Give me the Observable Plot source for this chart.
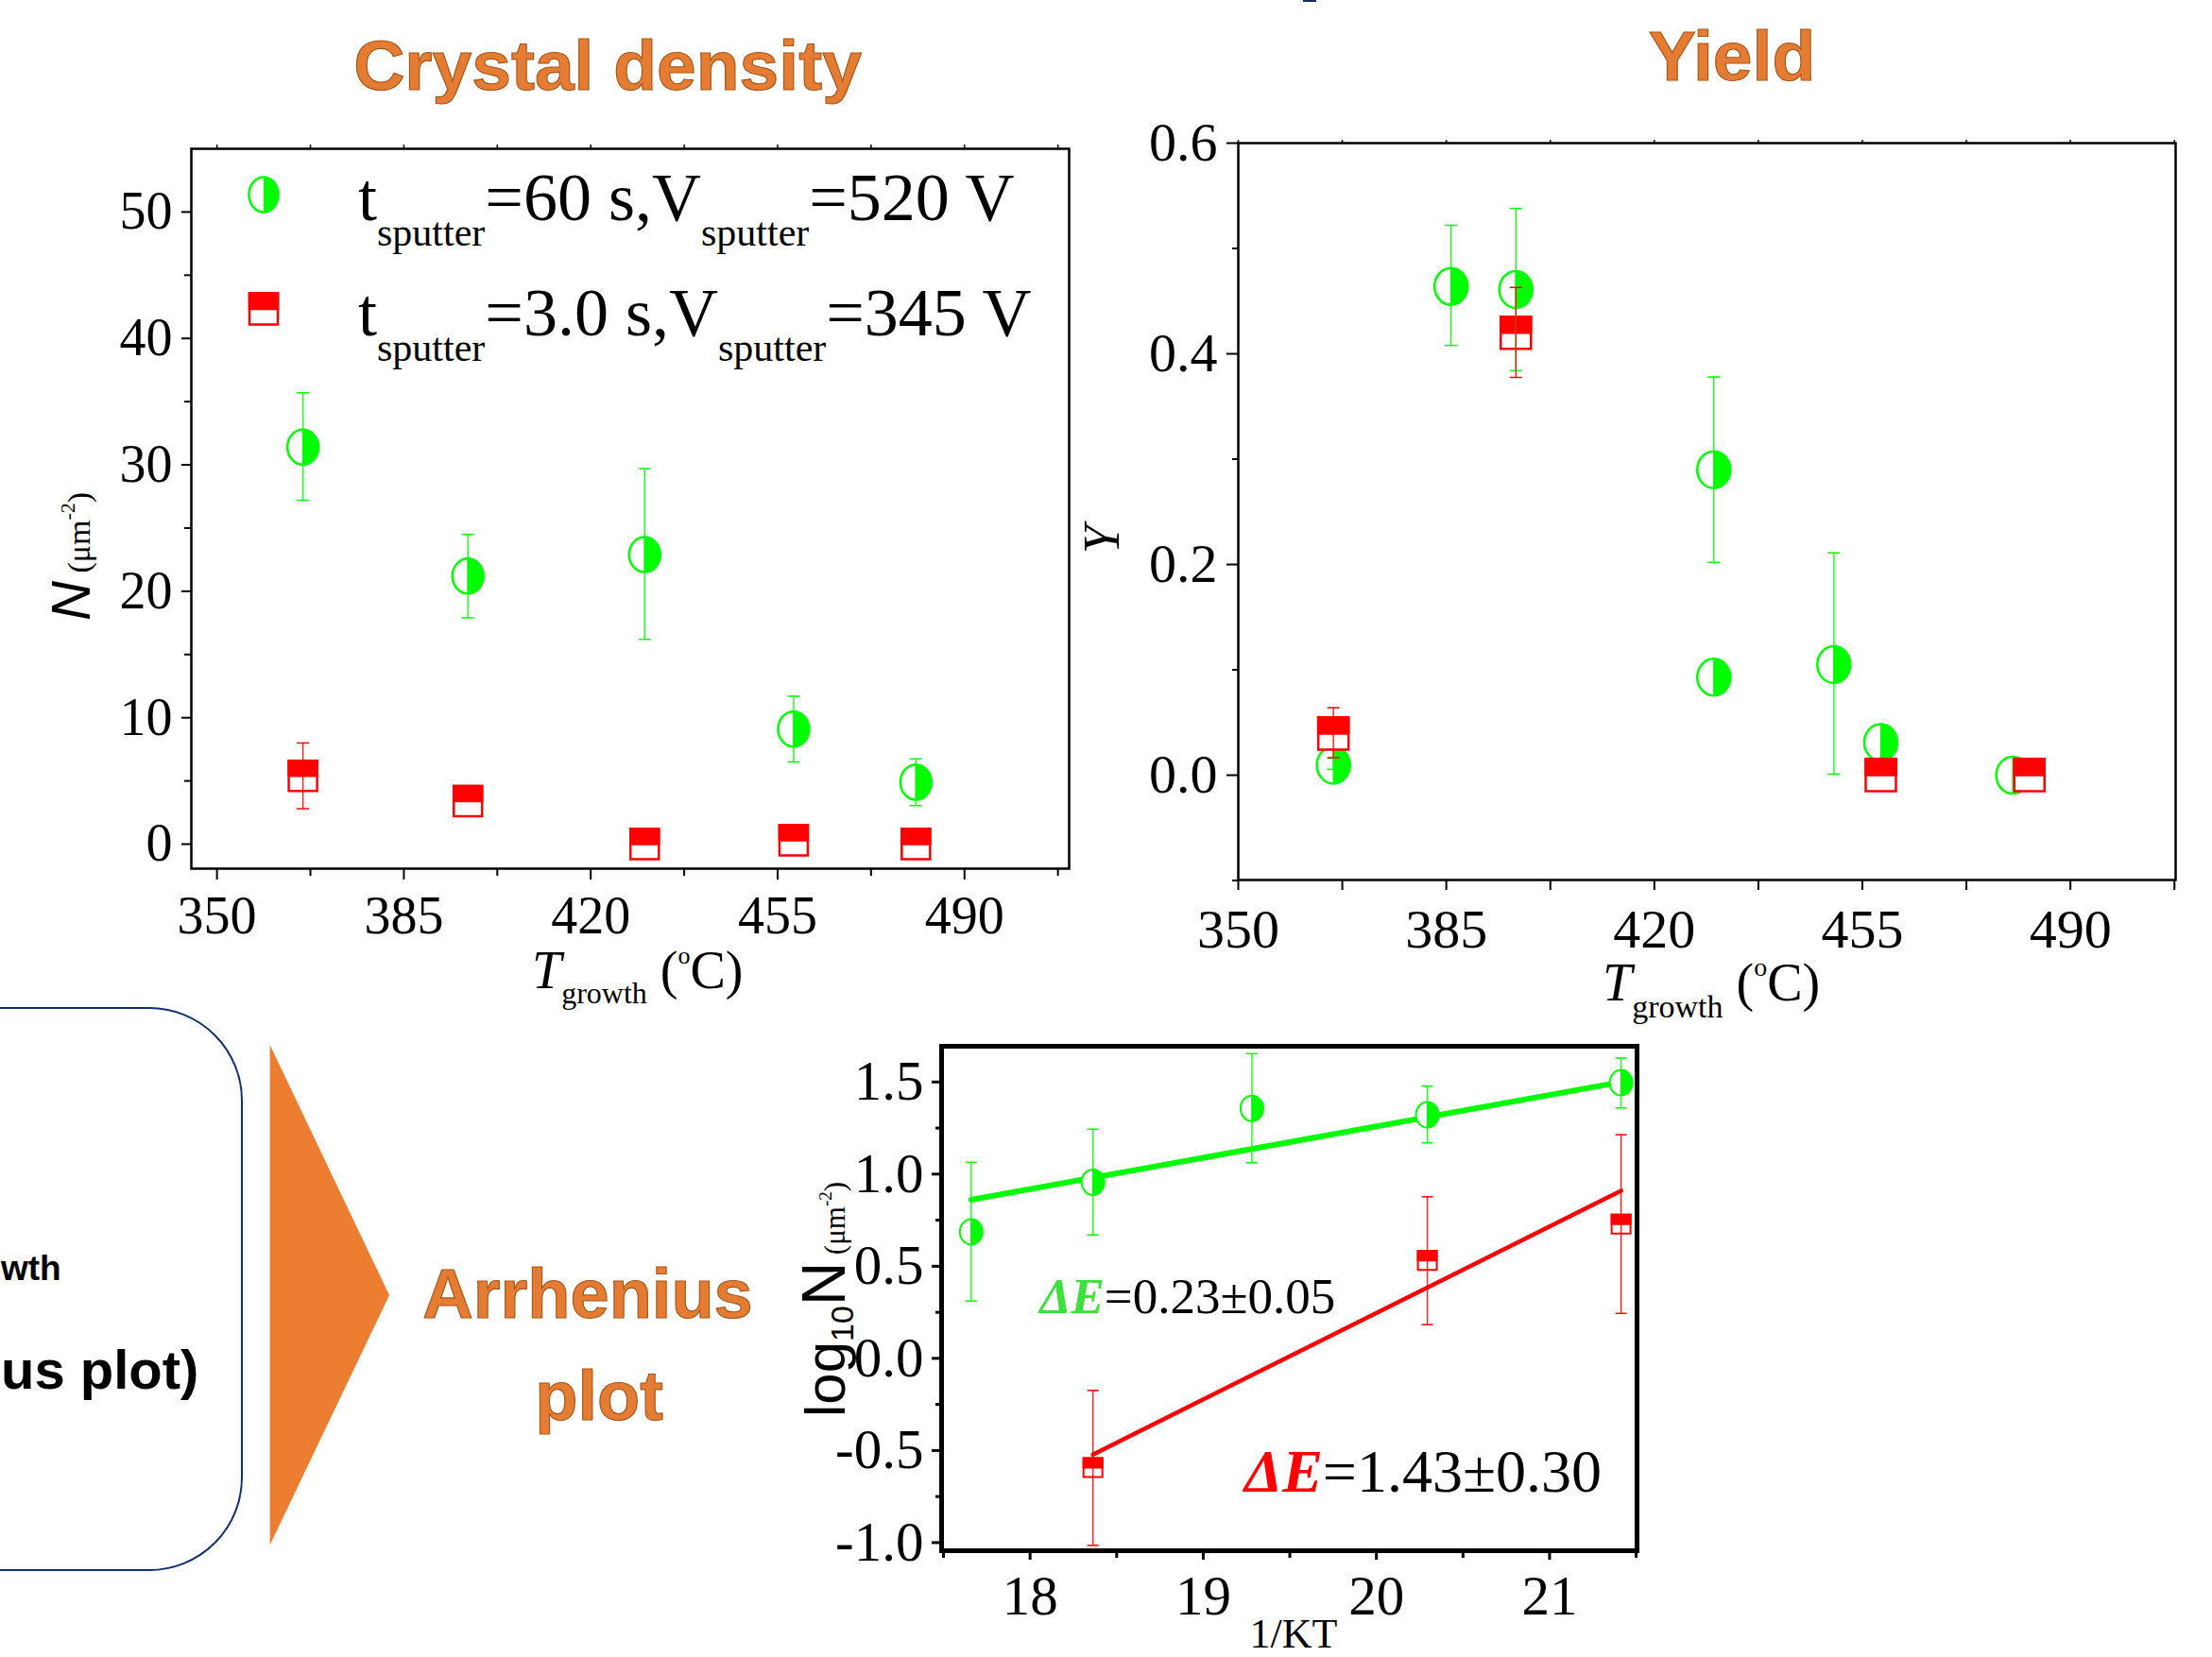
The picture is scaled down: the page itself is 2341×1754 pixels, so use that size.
<!DOCTYPE html>
<html><head><meta charset="utf-8">
<script src="https://cdn.jsdelivr.net/npm/d3@7"></script>
<script src="https://cdn.jsdelivr.net/npm/@observablehq/plot@0.6"></script>
<style>
body{margin:0;background:#fff;}
#page{position:relative;width:2341px;height:1754px;overflow:hidden;background:#fff;}
#page > svg{position:absolute;}
</style></head><body><div id="page"></div>
<script>
// ---------- DATA ----------
// Crystal density (top-left)
const densT        = [366.1, 397.0, 430.1, 458.0, 480.9];
const densGreen    = [31.4, 21.2, 22.9, 9.1, 4.9];
const densGreenLo  = [27.2, 17.9, 16.2, 6.5, 3.05];
const densGreenHi  = [35.7, 24.5, 29.7, 11.7, 6.74];
const densRed      = [5.4, 3.4, 0.0, 0.3, 0.0];
const densRedLo    = [2.8, null, null, null, null];
const densRedHi    = [8.0, null, null, null, null];
const densXTicks   = [350, 385, 420, 455, 490];
const densXMinor   = [367.5, 402.5, 437.5, 472.5, 507.5];
const densYTicks   = [0, 10, 20, 30, 40, 50];
const densYMinor   = [5, 15, 25, 35, 45];

// Yield (top-right)
const yieldGreenT  = [366.0, 385.8, 396.7, 430.0, 430.0, 450.2, 458.1, 480.3];
const yieldGreen   = [0.0095, 0.464, 0.461, 0.290, 0.093, 0.105, 0.031, 0.0];
const yieldGreenLo = [0.0055, 0.408, 0.384, 0.202, null, 0.001, null, null];
const yieldGreenHi = [0.016, 0.522, 0.538, 0.378, null, 0.211, null, null];
const yieldRedT    = [366.0, 396.7, 458.1, 483.1];
const yieldRed     = [0.0396, 0.420, 0.0, 0.0];
const yieldRedLo   = [0.0166, 0.3776, null, null];
const yieldRedHi   = [0.064, 0.463, null, null];
const yieldYTicks  = [0.0, 0.2, 0.4, 0.6];
const yieldYMinor  = [-0.1, 0.1, 0.3, 0.5];

// Arrhenius plot (bottom)
const invKT        = [17.66, 18.363, 19.281, 20.294, 21.413];
const logGreen     = [0.687, 0.956, 1.357, 1.322, 1.496];
const logGreenLo   = [0.311, 0.670, 1.062, 1.170, 1.359];
const logGreenHi   = [1.064, 1.244, 1.654, 1.478, 1.630];
const invKTRed     = [18.363, 20.294, 21.413];
const logRed       = [-0.593, 0.531, 0.729];
const logRedLo     = [-1.015, 0.183, 0.244];
const logRedHi     = [-0.174, 0.877, 1.214];
const fitGreenX    = [17.66, 21.413];
const fitGreenY    = [0.861, 1.5];
const fitRedX      = [18.363, 21.413];
const fitRedY      = [-0.522, 0.910];
const arrXTicks    = [18, 19, 20, 21];
const arrXMinor    = [17.5, 18.5, 19.5, 20.5, 21.5];
const arrYTicks    = [-1.0, -0.5, 0.0, 0.5, 1.0, 1.5];
const arrYMinor    = [-0.75, -0.25, 0.25, 0.75, 1.25];
const annGreen     = {x: 18.429, y: 0.244, head: "ΔE", tail: "=0.23±0.05"};
const annRed       = {x: 19.69, y: -0.725, head: "ΔE", tail: "=1.43±0.30"};

// ---------- HELPERS ----------
const GREEN = "#00ff00", RED = "#ff0000";
const SERIF = "'Liberation Serif','Times New Roman',serif";
const SANS = "'Liberation Sans',Arial,sans-serif";
const K = 0.5522847498;
function ellipseSym(rx, ry, half) {
  return {draw(ctx) {
    ctx.moveTo(0, -ry);
    ctx.bezierCurveTo(K*rx, -ry, rx, -K*ry, rx, 0);
    ctx.bezierCurveTo(rx, K*ry, K*rx, ry, 0, ry);
    if (!half) {
      ctx.bezierCurveTo(-K*rx, ry, -rx, K*ry, -rx, 0);
      ctx.bezierCurveTo(-rx, -K*ry, -K*rx, -ry, 0, -ry);
    }
    ctx.closePath();
  }};
}
function rectSym(w, h, half) {
  return {draw(ctx) {
    const y2 = half ? 0 : h/2;
    ctx.moveTo(-w/2, -h/2); ctx.lineTo(w/2, -h/2); ctx.lineTo(w/2, y2); ctx.lineTo(-w/2, y2); ctx.closePath();
  }};
}
function capSym(w) { return {draw(ctx) { ctx.moveTo(-w/2, 0); ctx.lineTo(w/2, 0); }}; }
function rows(xs, ys, los, his) { return xs.map((x, i) => ({x, y: ys[i], lo: los ? los[i] : null, hi: his ? his[i] : null})); }
function circles(data, rx, ry, sw) {
  return [
    Plot.dot(data, {x: "x", y: "y", symbol: ellipseSym(rx, ry, false), fill: "white", stroke: GREEN, strokeWidth: sw}),
    Plot.dot(data, {x: "x", y: "y", symbol: ellipseSym(rx, ry, true), fill: GREEN, stroke: GREEN, strokeWidth: sw * 0.5})
  ];
}
function squares(data, w, h, sw) {
  return [
    Plot.dot(data, {x: "x", y: "y", symbol: rectSym(w, h, false), fill: "white", stroke: RED, strokeWidth: sw}),
    Plot.dot(data, {x: "x", y: "y", symbol: rectSym(w, h, true), fill: RED, stroke: RED, strokeWidth: sw})
  ];
}
function errs(data, color, capW, sw) {
  const d = data.filter(r => r.lo != null);
  return [
    Plot.ruleX(d, {x: "x", y1: "lo", y2: "hi", stroke: color, strokeWidth: sw, strokeOpacity: 0.85}),
    Plot.dot(d, {x: "x", y: "lo", symbol: capSym(capW), stroke: color, strokeWidth: sw, fill: "none"}),
    Plot.dot(d, {x: "x", y: "hi", symbol: capSym(capW), stroke: color, strokeWidth: sw, fill: "none"})
  ];
}
const none = () => "";

const page = document.getElementById("page");
function place(svg, left, top) { svg.style.left = left + "px"; svg.style.top = top + "px"; page.appendChild(svg); }

// ---------- CHART 1: Crystal density ----------
const dG = rows(densT, densGreen, densGreenLo, densGreenHi);
const dR = rows(densT, densRed, densRedLo, densRedHi);
const c1 = Plot.plot({
  width: 1160, height: 1060,
  marginLeft: 202, marginRight: 29, marginTop: 157, marginBottom: 141,
  x: {domain: [345.2, 509.6], label: null},
  y: {domain: [-1.94, 55.0], label: null},
  style: {fontFamily: SERIF, fontSize: "56px", color: "black", background: "transparent", overflow: "visible"},
  marks: [
    Plot.frame({stroke: "black", strokeWidth: 2.5}),
    Plot.axisX({ticks: densXTicks, tickSize: 12, tickPadding: 17, tickFormat: d => String(d), label: null, strokeWidth: 2}),
    Plot.axisX({ticks: densXMinor, tickSize: 8, tickFormat: none, label: null, strokeWidth: 2}),
    Plot.axisX({anchor: "top", ticks: densXTicks.concat(densXMinor), tickSize: 5, tickFormat: none, label: null, strokeWidth: 1.5}),
    Plot.axisY({ticks: densYTicks, tickSize: 10, tickPadding: 10, tickFormat: d => String(d), label: null, strokeWidth: 2}),
    Plot.axisY({ticks: densYMinor, tickSize: 7, tickFormat: none, label: null, strokeWidth: 2}),
    ...circles(dG, 16.5, 18.5, 2.5),
    ...squares(dR, 30, 32, 2.5),
    ...errs(dG, GREEN, 13, 1.5),
    ...errs(dR, RED, 13, 1.5)
  ]
});
place(c1, 0, 0);

// ---------- CHART 2: Yield ----------
const yG = rows(yieldGreenT, yieldGreen, yieldGreenLo, yieldGreenHi);
const yR = rows(yieldRedT, yieldRed, yieldRedLo, yieldRedHi);
const c2 = Plot.plot({
  width: 1191, height: 1090,
  marginLeft: 160, marginRight: 39, marginTop: 151, marginBottom: 159,
  x: {domain: [350, 507.7], label: null},
  y: {domain: [-0.0995, 0.6], label: null},
  style: {fontFamily: SERIF, fontSize: "58px", color: "black", background: "transparent", overflow: "visible"},
  marks: [
    Plot.frame({stroke: "black", strokeWidth: 2.5}),
    Plot.axisX({ticks: densXTicks, tickSize: 11, tickPadding: 19, tickFormat: d => String(d), label: null, strokeWidth: 2}),
    Plot.axisX({ticks: densXMinor, tickSize: 11, tickFormat: none, label: null, strokeWidth: 2}),
    Plot.axisX({anchor: "top", ticks: densXTicks.concat(densXMinor), tickSize: 4, tickFormat: none, label: null, strokeWidth: 1.5}),
    Plot.axisY({ticks: yieldYTicks, tickSize: 12, tickPadding: 10, tickFormat: d => d.toFixed(1), label: null, strokeWidth: 2}),
    Plot.axisY({ticks: yieldYMinor, tickSize: 6, tickFormat: none, label: null, strokeWidth: 2}),
    ...circles(yG, 17.5, 19.5, 2.5),
    ...squares(yR, 32, 34, 2.5),
    ...errs(yG, GREEN, 13, 1.5),
    ...errs(yR, RED, 13, 1.5)
  ]
});
place(c2, 1150, 0);

// ---------- CHART 3: Arrhenius ----------
const aG = rows(invKT, logGreen, logGreenLo, logGreenHi);
const aR = rows(invKTRed, logRed, logRedLo, logRedHi);
const fG = fitGreenX.map((x, i) => ({x, y: fitGreenY[i]}));
const fR = fitRedX.map((x, i) => ({x, y: fitRedY[i]}));
const c3 = Plot.plot({
  width: 960, height: 694,
  marginLeft: 196, marginRight: 28, marginTop: 47, marginBottom: 113,
  x: {domain: [17.489, 21.505], label: null},
  y: {domain: [-1.044, 1.694], label: null},
  style: {fontFamily: SERIF, fontSize: "59px", color: "black", background: "transparent", overflow: "visible"},
  marks: [
    Plot.axisX({ticks: arrXTicks, tickSize: 10, tickPadding: 16, tickFormat: d => String(d), label: null, strokeWidth: 3}),
    Plot.axisX({ticks: arrXMinor, tickSize: 8, tickFormat: none, label: null, strokeWidth: 3}),
    Plot.axisY({ticks: arrYTicks, tickSize: 10, tickPadding: 9, tickFormat: d => d.toFixed(1), label: null, strokeWidth: 3}),
    Plot.axisY({ticks: arrYMinor, tickSize: 6, tickFormat: none, label: null, strokeWidth: 3}),
    Plot.frame({stroke: "black", strokeWidth: 5}),
    Plot.line(fG, {x: "x", y: "y", stroke: GREEN, strokeWidth: 6}),
    Plot.line(fR, {x: "x", y: "y", stroke: RED, strokeWidth: 4.5}),
    ...circles(aG, 12, 13.5, 2),
    ...squares(aR, 20, 20, 2),
    ...errs(aG, GREEN, 12, 1.5),
    ...errs(aR, RED, 12, 1.5),
    Plot.text([annGreen], {x: "x", y: "y", text: "head", textAnchor: "end", lineAnchor: "bottom", fill: "#3ee03e", fontWeight: "bold", fontStyle: "italic", fontSize: 53, fontFamily: SERIF}),
    Plot.text([annGreen], {x: "x", y: "y", text: "tail", textAnchor: "start", lineAnchor: "bottom", fill: "black", fontSize: 53, fontFamily: SERIF}),
    Plot.text([annRed], {x: "x", y: "y", text: "head", textAnchor: "end", lineAnchor: "bottom", fill: RED, fontWeight: "bold", fontStyle: "italic", fontSize: 64, fontFamily: SERIF}),
    Plot.text([annRed], {x: "x", y: "y", text: "tail", textAnchor: "start", lineAnchor: "bottom", fill: "black", fontSize: 64, fontFamily: SERIF})
  ]
});
place(c3, 800, 1060);

// ---------- OVERLAY: titles, labels, legend, decorations ----------
const ov = `
<svg xmlns="http://www.w3.org/2000/svg" width="2341" height="1754" style="left:0;top:0;pointer-events:none">
  <rect x="1379" y="0" width="14" height="2" fill="#0f2d6b"/>
  <g font-family="${SANS}" font-weight="bold" fill="#E47D33" stroke="#A9561A" stroke-width="1.2" text-anchor="middle">
    <text x="643" y="95" font-size="75">Crystal density</text>
    <text x="1833" y="85" font-size="75">Yield</text>
    <text x="622" y="1395" font-size="74">Arrhenius</text>
    <text x="634" y="1503" font-size="74">plot</text>
  </g>
  <path d="M -60 1067 L 158 1067 A 98 98 0 0 1 256 1165 L 256 1564 A 98 98 0 0 1 158 1662 L -60 1662 Z" fill="none" stroke="#12306e" stroke-width="2"/>
  <g font-family="${SANS}" font-weight="bold" fill="black" text-anchor="start">
    <text x="1" y="1355" font-size="37">wth</text>
    <text x="1" y="1470" font-size="58">us plot)</text>
  </g>
  <polygon points="285.6,1106 412,1371 285.6,1635.5" fill="#ED7D31"/>

  <!-- legend (crystal density) -->
  <ellipse cx="279" cy="206" rx="15.5" ry="18.5" fill="white" stroke="${GREEN}" stroke-width="2.5"/>
  <path d="M279 187.5 A15.5 18.5 0 0 1 279 224.5 Z" fill="${GREEN}"/>
  <rect x="264" y="310.5" width="30" height="33" fill="white" stroke="${RED}" stroke-width="2.5"/>
  <rect x="264" y="310.5" width="30" height="16.5" fill="${RED}" stroke="${RED}" stroke-width="2.5"/>
  <g font-family="${SERIF}" fill="black">
    <text x="379" y="233" font-size="72">t<tspan font-size="42" dy="27">sputter</tspan><tspan dy="-27">=60 s,V</tspan><tspan font-size="42" dy="27">sputter</tspan><tspan dy="-27">=520 V</tspan></text>
    <text x="379" y="355" font-size="72">t<tspan font-size="42" dy="27">sputter</tspan><tspan dy="-27">=3.0 s,V</tspan><tspan font-size="42" dy="27">sputter</tspan><tspan dy="-27">=345 V</tspan></text>
  </g>

  <!-- axis labels -->
  <g font-family="${SERIF}" fill="black">
    <text x="563" y="1046" font-size="56"><tspan font-style="italic">T</tspan><tspan font-size="32" dy="16">growth</tspan><tspan dy="-16"> (</tspan><tspan font-size="26" dy="-26">o</tspan><tspan dy="26">C)</tspan></text>
    <text x="1696" y="1059" font-size="56"><tspan font-style="italic">T</tspan><tspan font-size="34" dy="18">growth</tspan><tspan dy="-18"> (</tspan><tspan font-size="28" dy="-26">o</tspan><tspan dy="26">C)</tspan></text>
    <text transform="translate(1184,571) rotate(-90)" font-size="54" font-style="italic" text-anchor="middle">Y</text>
    <text transform="translate(95,657) rotate(-90)"><tspan font-family="${SANS}" font-style="italic" font-size="58">N</tspan><tspan font-size="34"> (μm</tspan><tspan font-size="22" dy="-16">-2</tspan><tspan font-size="34" dy="16">)</tspan></text>
    <text transform="translate(894,1500) rotate(-90)"><tspan font-family="${SANS}" font-size="60">log</tspan><tspan font-family="${SANS}" font-size="34" dy="9">10</tspan><tspan font-family="${SANS}" font-size="64" dy="-9">N</tspan><tspan font-size="31"> (μm</tspan><tspan font-size="19" dy="-14">-2</tspan><tspan font-size="31" dy="14">)</tspan></text>
    <text x="1369" y="1744" font-size="44" text-anchor="middle">1/KT</text>
  </g>
</svg>`;
page.insertAdjacentHTML("beforeend", ov);
</script>
</body></html>
